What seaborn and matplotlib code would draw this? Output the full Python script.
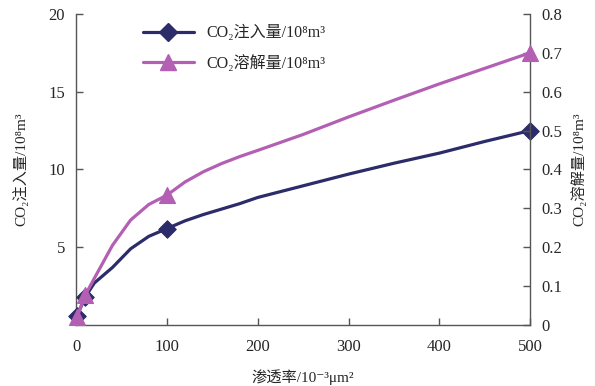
import matplotlib
matplotlib.use("Agg")
import matplotlib.pyplot as plt
from matplotlib.lines import Line2D
import seaborn as sns
import pandas as pd

# smoothed curves (permeability, 10^-3 um^2)
perm = [1, 10, 20, 40, 60, 80, 100, 120, 140, 160, 180, 200, 250, 300, 350, 400, 450, 500]
inject = [0.6, 1.8, 2.7, 3.7, 4.9, 5.7, 6.2, 6.7, 7.1, 7.45, 7.8, 8.2, 8.95, 9.7, 10.4, 11.05, 11.8, 12.5]
dissolve = [0.02, 0.077, 0.12, 0.205, 0.27, 0.31, 0.334, 0.368, 0.394, 0.415, 0.433, 0.449, 0.49, 0.535, 0.578, 0.62, 0.66, 0.70]

# marked points
mark_perm = [1, 10, 100, 500]
mark_inject = [0.6, 1.8, 6.2, 12.5]
mark_dissolve = [0.02, 0.077, 0.334, 0.70]

left_ticks = [5, 10, 15, 20]
right_ticks = [0, 0.1, 0.2, 0.3, 0.4, 0.5, 0.6, 0.7, 0.8]
right_labels = ["0", "0.1", "0.2", "0.3", "0.4", "0.5", "0.6", "0.7", "0.8"]
x_ticks = [0, 100, 200, 300, 400, 500]

label_inject = "CO₂注入量/10⁸m³"
label_dissolve = "CO₂溶解量/10⁸m³"
label_x = "渗透率/10⁻³μm²"

navy = "#2c2c6a"
purple = "#b35fb3"
spine_c = "#555555"

sns.set_style("ticks")
fonts = ["Liberation Serif", "Noto Sans CJK SC", "DejaVu Sans"]
plt.rcParams["font.family"] = fonts
plt.rcParams["font.size"] = 11

df = pd.DataFrame({"perm": perm, "inject": inject, "dissolve": dissolve})
dm = pd.DataFrame({"perm": mark_perm, "inject": mark_inject, "dissolve": mark_dissolve})

fig = plt.figure(figsize=(5.95, 3.86), dpi=100)
ax = fig.add_axes([0.128, 0.158, 0.763, 0.806])
ax2 = ax.twinx()

sns.lineplot(data=df, x="perm", y="inject", ax=ax, color=navy, lw=2.3)
sns.scatterplot(data=dm, x="perm", y="inject", ax=ax, color=navy, marker="D", s=80,
                edgecolor=navy, zorder=5, clip_on=False)
sns.lineplot(data=df, x="perm", y="dissolve", ax=ax2, color=purple, lw=2.3)
sns.scatterplot(data=dm, x="perm", y="dissolve", ax=ax2, color=purple, marker="^", s=130,
                edgecolor=purple, zorder=5, clip_on=False)

ax.set_xlim(0, 500)
ax.set_ylim(0, 20)
ax2.set_ylim(0, 0.8)
ax.set_xticks(x_ticks)
ax.set_yticks(left_ticks)
ax2.set_yticks(right_ticks)
ax2.set_yticklabels(right_labels)

for a in (ax, ax2):
    a.tick_params(direction="in", length=5, width=1, color=spine_c, labelsize=12, pad=8)
    for s in a.spines.values():
        s.set_color(spine_c)
        s.set_linewidth(1)
    a.spines["top"].set_visible(False)
ax.spines["right"].set_visible(False)
ax2.spines["left"].set_visible(False)
ax2.spines["bottom"].set_visible(False)
ax.tick_params(axis="x", pad=10)

ax.set_xlabel(label_x, fontsize=11, labelpad=10)
ax.set_ylabel(label_inject, fontsize=11, labelpad=14)
ax2.set_ylabel(label_dissolve, fontsize=11, rotation=90, labelpad=6)

handles = [
    Line2D([], [], color=navy, lw=2.3, marker="D", markersize=9),
    Line2D([], [], color=purple, lw=2.3, marker="^", markersize=11),
]
ax.legend(handles, [label_inject, label_dissolve], loc="upper left",
          bbox_to_anchor=(0.115, 1.01), frameon=False, fontsize=11.5,
          handlelength=3.2, labelspacing=0.85)

fig.savefig("out.png", dpi=100)
